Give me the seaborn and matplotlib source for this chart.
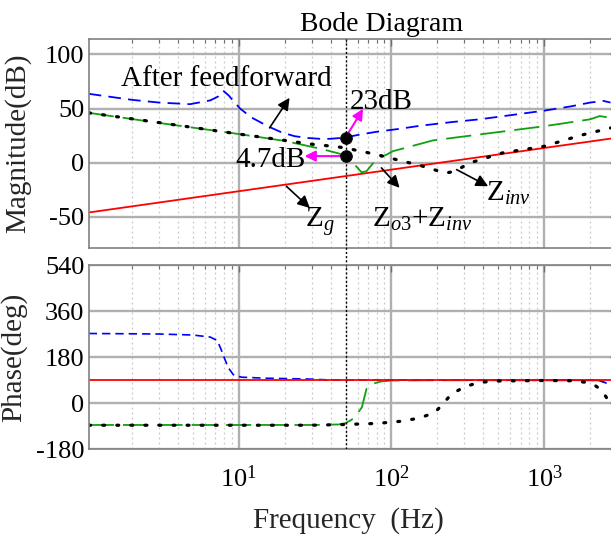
import numpy as np
import pandas as pd
import matplotlib
matplotlib.use("Agg")
import matplotlib.pyplot as plt
import seaborn as sns
from matplotlib.ticker import LogLocator, NullFormatter, FixedLocator

# ---------------- data ----------------
zg_f = [1.0, 10.0, 100.0, 1000.0, 3000.0]
zg_mag = [-46.5, -26.5, -6.5, 13.5, 23.0]
zg_ph_f = [1.0, 3000.0]
zg_ph = [90.0, 90.0]

ff_f = [1.04, 2.0, 3.0, 4.8, 6.5, 7.3, 7.9, 8.6, 9.2, 10.2, 12.0, 15.5, 19.0,
        23.2, 28.0, 34.5, 40.0, 49.0, 60.0, 80.0, 113.0, 153.0, 250.0, 378.0,
        512.0, 1000.0, 1500.0, 2000.0, 2450.0, 2720.0]
ff_mag = [63.6, 58.0, 55.5, 54.0, 57.5, 61.0, 66.5, 62.0, 57.0, 50.0, 42.0,
          33.6, 28.0, 24.4, 22.8, 21.9, 22.0, 23.0, 25.5, 28.5, 31.2, 34.0,
          37.5, 40.0, 42.5, 48.0, 52.0, 55.5, 57.0, 55.5]
ff_ph_f = [1.04, 3.0, 5.0, 6.5, 7.2, 7.6, 8.0, 8.5, 9.2, 10.4, 15.0, 28.0,
           40.0, 100.0, 200.0, 500.0, 1000.0, 2000.0, 2300.0, 2500.0, 2720.0]
ff_ph = [272, 270, 266, 258, 245, 215, 180, 140, 111, 101, 97, 94, 90, 90,
         90, 89, 89, 89, 88, 80, 71]

zo_f = [1.04, 3.0, 10.0, 20.0, 27.0, 35.0, 45.0, 49.0, 56.0, 63.7, 68.6,
        80.0, 93.0, 102.0, 187.0, 378.0, 1000.0, 2000.0, 2310.0, 2720.0]
zo_mag = [46.0, 36.7, 26.4, 20.0, 16.0, 12.5, 8.5, 6.5, -0.3, -9.0, -8.0,
          3.4, 7.4, 10.5, 20.5, 26.0, 33.6, 40.0, 43.0, 41.4]
zo_ph_f = [1.04, 10.0, 30.0, 45.0, 50.0, 55.0, 60.0, 64.0, 68.6, 75.0, 85.0,
           100.0, 200.0, 1000.0, 2000.0, 2300.0, 2500.0, 2720.0]
zo_ph = [-86, -86, -86, -84, -79, -65, -40, -17, 55, 75, 84, 88, 89, 89, 89,
         88, 80, 71]

zi_f = [1.04, 3.0, 10.0, 20.0, 30.0, 45.0, 56.0, 80.0, 113.0, 153.0, 200.0,
        229.0, 260.0, 326.0, 536.0, 1000.0, 1710.0, 2720.0]
zi_mag = [46.0, 37.0, 26.4, 20.5, 17.0, 14.5, 12.0, 7.4, 2.0, -2.5, -7.5,
          -9.6, -8.0, -0.3, 9.0, 15.0, 25.0, 32.0]
zi_ph_f = [1.04, 30.0, 50.0, 80.0, 113.0, 153.0, 192.0, 212.0, 247.0, 303.0,
           378.0, 500.0, 1000.0, 1500.0, 1880.0, 2150.0, 2370.0, 2530.0, 2720.0]
zi_ph = [-87, -87, -84, -80, -72, -59, -37, -11, 35, 64, 81, 86, 88, 87, 81,
         69, 51, 26, -6]

marker_f = 50.0
dot_f = [50.0, 50.0]
dot_mag = [23.0, 6.0]

mag_ticks = [-50, 0, 50, 100]
ph_ticks = [-180, 0, 180, 360, 540]

# ---------------- style ----------------
sns.set_theme(style="white")
plt.rcParams["font.family"] = ["Liberation Serif", "DejaVu Serif"]
plt.rcParams["mathtext.fontset"] = "custom"
plt.rcParams["mathtext.rm"] = "Liberation Serif"
plt.rcParams["mathtext.it"] = "Liberation Serif:italic"
plt.rcParams["axes.unicode_minus"] = False
plt.rcParams["text.color"] = "black"

W, H = 611, 536
fig = plt.figure(figsize=(W / 100, H / 100), dpi=100)
left = 88.7 / W
width = (617 - 88.7) / W
ax1 = fig.add_axes([left, 1 - 248 / H, width, (248 - 39.3) / H])
ax2 = fig.add_axes([left, 1 - 449 / H, width, (449 - 265) / H])

BLUE = "#0000ff"
GREEN = "#10a010"
RED = "#ff0000"

def line(ax, f, v, **kw):
    sns.lineplot(x=f, y=v, ax=ax, sort=False, estimator=None, **kw)

# magnitude
line(ax1, zg_f, zg_mag, color=RED, linewidth=1.3)
line(ax1, ff_f, ff_mag, color=BLUE, linewidth=1.3, linestyle=(0, (7, 4)))
line(ax1, zo_f, zo_mag, color=GREEN, linewidth=1.3, linestyle=(0, (14, 5)))
line(ax1, zi_f, zi_mag, color="black", linewidth=2.3,
     linestyle=(0, (0.6, 3.8)), dash_capstyle="round")

# phase
line(ax2, zo_ph_f, zo_ph, color=GREEN, linewidth=1.3, linestyle=(0, (14, 5)))
line(ax2, ff_ph_f, ff_ph, color=BLUE, linewidth=1.2, linestyle=(0, (5, 3)))
line(ax2, zg_ph_f, zg_ph, color=RED, linewidth=1.3)
line(ax2, zi_ph_f, zi_ph, color="black", linewidth=2.3,
     linestyle=(0, (0.6, 3.8)), dash_capstyle="round")

for ax in (ax1, ax2):
    ax.set_xscale("log")
    ax.set_xlim(1.04, 3000)
    ax.xaxis.set_major_locator(LogLocator(base=10))
    ax.xaxis.set_minor_locator(LogLocator(base=10, subs=np.arange(2, 10)))
    ax.xaxis.set_minor_formatter(NullFormatter())
    ax.grid(True, which="major", color="#b0b0b0", linewidth=1.7, linestyle="-")
    ax.grid(True, which="minor", axis="x", color="#c8c8c8", linewidth=0.9,
            linestyle=(0, (1.5, 2.5)))
    ax.set_axisbelow(True)
    for s in ax.spines.values():
        s.set_color("#808080")
        s.set_linewidth(1.2)
    ax.tick_params(which="both", direction="in", top=True, right=True,
                   colors="#707070", labelcolor="black", labelsize=19)
    ax.tick_params(which="major", length=5, width=1)
    ax.tick_params(which="minor", length=3, width=0.8)
    ax.tick_params(axis="y", pad=3)
    ax.set_xlabel("")
    ax.set_ylabel("")

ax1.set_ylim(-79, 114)
ax1.yaxis.set_major_locator(FixedLocator(mag_ticks))
ax1.tick_params(axis="x", labelbottom=False)
ax2.set_ylim(-180, 540)
ax2.yaxis.set_major_locator(FixedLocator(ph_ticks))
ax2.tick_params(axis="x", pad=12)

# vertical marker line spanning both axes and the gap
ax1.axvline(marker_f, ymin=-0.085, ymax=1, color="black", linewidth=1.0,
            linestyle=(0, (1.5, 1.5)), clip_on=False, zorder=5)
ax2.axvline(marker_f, color="black", linewidth=1.0,
            linestyle=(0, (1.5, 1.5)), zorder=5)

# labels
ax1.set_ylabel("Magnitude(dB)", fontsize=21)
ax1.yaxis.set_label_coords((31 - 88.7) / (617 - 88.7), 0.5)
ax2.set_ylabel("Phase(deg)", fontsize=21)
ax2.yaxis.set_label_coords((27 - 88.7) / (617 - 88.7), 0.5)
ax2.set_xlabel("Frequency  (Hz)", fontsize=21)
ax2.xaxis.set_label_coords((348 - 88.7) / (617 - 88.7), (449 - 528) / 184)
ax2.xaxis.label.set_verticalalignment("baseline")
fig.text(382 / W, 1 - 31 / H, "Bode Diagram", fontsize=20, ha="center",
         va="baseline")

# dots and annotations
sns.scatterplot(x=dot_f, y=dot_mag, ax=ax1, color="black", s=70,
                edgecolor="black", zorder=6)

blk = dict(arrowstyle="-|>", color="black", lw=1.2, mutation_scale=18,
           shrinkA=0, shrinkB=0)
mag = dict(arrowstyle="-|>", color="#ff00ff", lw=1.5, mutation_scale=16,
           shrinkA=0, shrinkB=0)

ax1.text(1.69, 70.6, "After feedforward", fontsize=21, ha="left",
         va="baseline")
ax1.annotate("", xy=(21.5, 59.9), xytext=(15.9, 32.1), arrowprops=blk)

ax1.annotate("", xy=(65.2, 49.7), xytext=(50, 23), arrowprops=mag)
ax1.text(53.3, 49.7, "23dB", fontsize=21, ha="left", va="baseline")
ax1.annotate("", xy=(27, 6.0), xytext=(50, 6.0), arrowprops=mag)
ax1.text(27.6, -4, "4.7dB", fontsize=21, ha="right", va="baseline")

ax1.annotate("", xy=(29.2, -42), xytext=(20.5, -21.9), arrowprops=blk)
ax1.text(27, -59, r"$\mathrm{Z}_{g}$", fontsize=21, ha="left",
         va="baseline")
ax1.annotate("", xy=(113, -23.4), xytext=(85.9, -4.9), arrowprops=blk)
ax1.text(74, -59, r"$\mathrm{Z}_{o3}\mathrm{+Z}_{inv}$", fontsize=21,
         ha="left", va="baseline")
ax1.annotate("", xy=(430, -21.9), xytext=(267, -6.5), arrowprops=blk)
ax1.text(419, -35.8, r"$\mathrm{Z}_{inv}$", fontsize=21, ha="left",
         va="baseline")

fig.savefig("out.png", dpi=100)
